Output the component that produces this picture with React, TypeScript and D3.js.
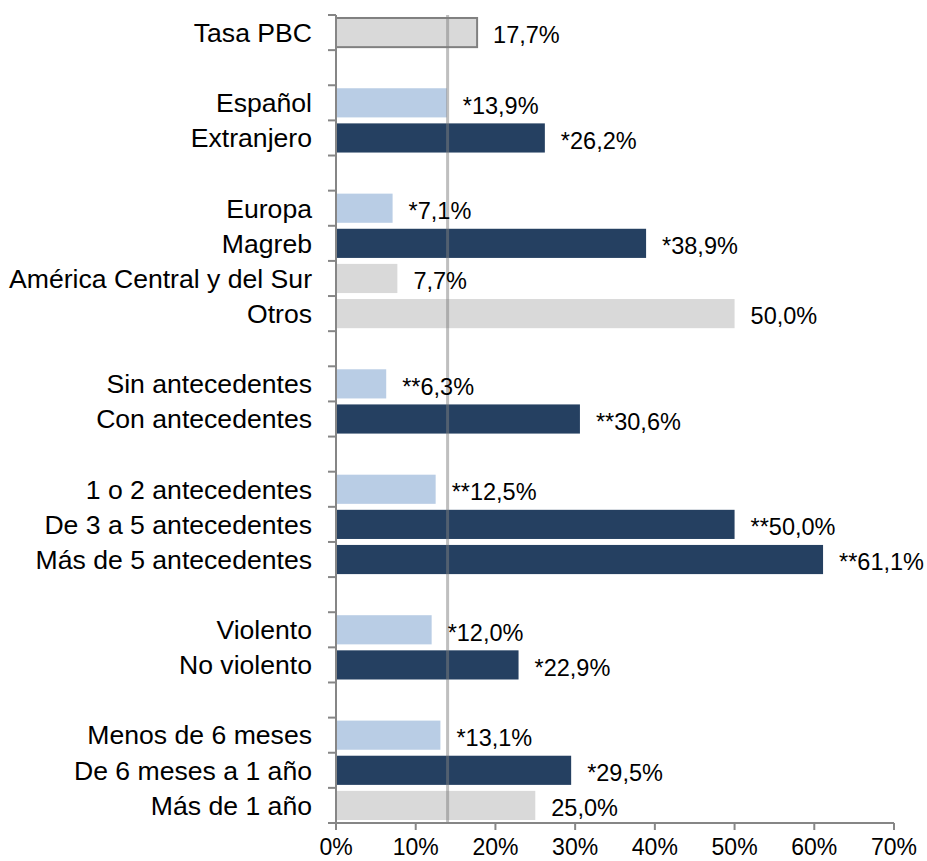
import React from "react";
import * as d3 from "d3";

const categories: string[] = [
  "Tasa PBC", "",
  "Español", "Extranjero", "",
  "Europa", "Magreb", "América Central y del Sur", "Otros", "",
  "Sin antecedentes", "Con antecedentes", "",
  "1 o 2 antecedentes", "De 3 a 5 antecedentes", "Más de 5 antecedentes", "",
  "Violento", "No violento", "",
  "Menos de 6 meses", "De 6 meses a 1 año", "Más de 1 año",
];
const values: (number | null)[] = [
  17.7, null,
  13.9, 26.2, null,
  7.1, 38.9, 7.7, 50.0, null,
  6.3, 30.6, null,
  12.5, 50.0, 61.1, null,
  12.0, 22.9, null,
  13.1, 29.5, 25.0,
];
const prefixes: string[] = [
  "", "",
  "*", "*", "",
  "*", "*", "", "", "",
  "**", "**", "",
  "**", "**", "**", "",
  "*", "*", "",
  "*", "*", "",
];
// kind: t = total, l = light, d = dark, g = gray
const kinds: string[] = [
  "t", "",
  "l", "d", "",
  "l", "d", "g", "g", "",
  "l", "d", "",
  "l", "d", "d", "",
  "l", "d", "",
  "l", "d", "g",
];
const xTicks: number[] = [0, 10, 20, 30, 40, 50, 60, 70];
const referenceValue = 14.0;

const fills: Record<string, string> = { t: "#d9d9d9", l: "#b9cde5", d: "#254061", g: "#d9d9d9" };
const FONT = "'Liberation Sans', Arial, sans-serif";

export default function App() {
  const W = 927, H = 861;
  const x = d3.scaleLinear().domain([0, 70]).range([336, 894]);
  const idx = categories.map((_, i) => String(i));
  const y = d3.scaleBand<string>().domain(idx).range([15, 823]).paddingInner(0.17).paddingOuter(0.085);
  const step = y.step();
  const top = 15, bottom = 823;
  const boundaries = d3.range(categories.length + 1).map((i) => top + i * step);
  const fmt = (v: number) => v.toFixed(1).replace(".", ",") + "%";

  return (
    <svg width={W} height={H} style={{ position: "absolute", left: 0, top: 0, background: "#fff" }} fontFamily={FONT}>
      {categories.map((c, i) => {
        const v = values[i];
        if (v == null) return null;
        const yy = y(String(i))!;
        const k = kinds[i];
        return (
          <g key={i}>
            <rect
              x={x(0)}
              y={yy}
              width={x(v) - x(0)}
              height={y.bandwidth()}
              fill={fills[k]}
              stroke={k === "t" ? "#808080" : "none"}
              strokeWidth={k === "t" ? 2 : 0}
            />
          </g>
        );
      })}
      <line x1={x(referenceValue)} x2={x(referenceValue)} y1={top} y2={bottom} stroke="rgba(128,128,128,0.5)" strokeWidth={3} />
      {categories.map((c, i) => {
        const v = values[i];
        if (v == null) return null;
        const cy = y(String(i))! + y.bandwidth() / 2;
        return (
          <g key={"t" + i}>
            <text x={312} y={cy} dy="0.35em" textAnchor="end" fontSize={26.6} fill="#000">{c}</text>
            <text x={x(v) + 16} y={cy + 2.5} dy="0.35em" textAnchor="start" fontSize={23.5} fill="#000">{prefixes[i] + fmt(v)}</text>
          </g>
        );
      })}
      {/* y axis */}
      <line x1={336} x2={336} y1={top} y2={bottom} stroke="#868686" strokeWidth={2} />
      {boundaries.map((b, i) => (
        <line key={"yt" + i} x1={328} x2={336} y1={b} y2={b} stroke="#868686" strokeWidth={2} />
      ))}
      {/* x axis */}
      <line x1={x(0)} x2={x(70)} y1={bottom} y2={bottom} stroke="#868686" strokeWidth={2} />
      {xTicks.map((t) => (
        <g key={"xt" + t}>
          <line x1={x(t)} x2={x(t)} y1={bottom} y2={bottom + 7} stroke="#868686" strokeWidth={2} />
          <text x={x(t)} y={855} textAnchor="middle" fontSize={23} fill="#000">{t + "%"}</text>
        </g>
      ))}
    </svg>
  );
}
